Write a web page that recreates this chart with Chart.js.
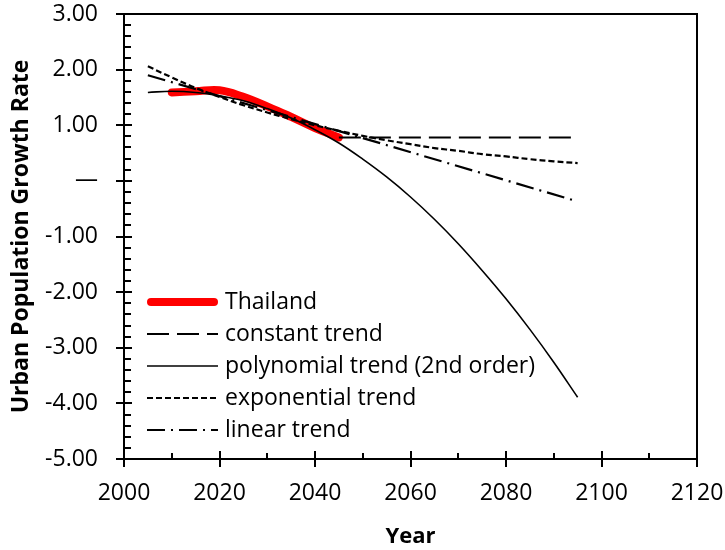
<!DOCTYPE html>
<html>
<head>
<meta charset="utf-8">
<script src="https://cdn.jsdelivr.net/npm/chart.js@4/dist/chart.umd.min.js"></script>
<style>
  html, body { margin: 0; padding: 0; background: #fff; }
  #wrap { width: 725px; height: 550px; }
</style>
</head>
<body>
<div id="wrap"><canvas id="chart" width="725" height="550"></canvas></div>
<script>
// data
const thaiYears = [2010, 2015, 2020, 2025, 2030, 2035, 2040, 2045];
const thaiRate  = [1.59, 1.61, 1.63, 1.51, 1.34, 1.15, 0.95, 0.78];

const constYears = [2045, 2095];
const constRate  = [0.78, 0.78];

const trendYears = [2005, 2010, 2015, 2020, 2025, 2030, 2035, 2040, 2045, 2050,
                    2055, 2060, 2065, 2070, 2075, 2080, 2085, 2090, 2095];
const polyRate = [1.59, 1.61, 1.59, 1.53, 1.44, 1.30, 1.13, 0.92, 0.68, 0.39,
                  0.07, -0.29, -0.69, -1.13, -1.61, -2.12, -2.67, -3.26, -3.89];
const expRate  = [2.06, 1.86, 1.67, 1.51, 1.36, 1.23, 1.11, 1.00, 0.90, 0.81,
                  0.73, 0.66, 0.59, 0.54, 0.48, 0.44, 0.39, 0.35, 0.32];

const linYears = [2005, 2050, 2095];
const linRate  = [1.90, 0.77, -0.37];

const seriesNames = ['Thailand', 'constant trend', 'polynomial trend (2nd order)',
                     'exponential trend', 'linear trend'];

const xMin = 2000, xMax = 2120, xStep = 20, xMinor = 10;
const yMin = -5, yMax = 3, yStep = 1, yMinor = 0.2;

const FONT = "'Open Sans', 'DejaVu Sans', sans-serif";

function pts(xs, ys) {
    return xs.map((x, i) => ({ x: x, y: ys[i] }));
}

// box + tick marks like the excel frame
const frameTicks = {
    id: 'frameTicks',
    afterDraw(chart) {
        const { ctx, chartArea: a, scales: { x, y } } = chart;
        ctx.save();
        ctx.strokeStyle = '#000';
        ctx.lineWidth = 2;
        ctx.strokeRect(a.left, a.top, a.right - a.left, a.bottom - a.top);
        ctx.beginPath();
        const ny = Math.round((yMax - yMin) / yMinor);
        for (let i = 0; i <= ny; i++) {
            const v = yMin + i * yMinor;
            const py = Math.round(y.getPixelForValue(v));
            const major = i % Math.round(yStep / yMinor) === 0;
            ctx.moveTo(a.left - (major ? 8 : 0), py);
            ctx.lineTo(a.left + (major ? 8 : 7), py);
        }
        const nx = Math.round((xMax - xMin) / xMinor);
        for (let i = 0; i <= nx; i++) {
            const v = xMin + i * xMinor;
            const px = Math.round(x.getPixelForValue(v));
            const major = i % Math.round(xStep / xMinor) === 0;
            ctx.moveTo(px, a.bottom + (major ? 8 : 0));
            ctx.lineTo(px, a.bottom - (major ? 8 : 6));
        }
        ctx.stroke();
        ctx.restore();
    }
};

// legend drawn inside the plot, lower left
const insideLegend = {
    id: 'insideLegend',
    afterDraw(chart) {
        const { ctx, chartArea: a } = chart;
        const x0 = a.left + 23, x1 = a.left + 94, tx = a.left + 101;
        let yRow = a.bottom - 157;
        ctx.save();
        ctx.font = "23px " + FONT;
        ctx.fillStyle = '#000';
        ctx.textBaseline = 'middle';
        chart.data.datasets.forEach(ds => {
            ctx.beginPath();
            ctx.strokeStyle = ds.borderColor;
            ctx.lineWidth = ds.borderWidth;
            ctx.lineCap = ds.borderCapStyle || 'butt';
            ctx.setLineDash(ds.borderDash || []);
            const cap = ctx.lineCap === 'round' ? ds.borderWidth / 2 : 0;
            ctx.moveTo(x0 + cap, yRow);
            ctx.lineTo(x1 - cap, yRow);
            ctx.stroke();
            ctx.fillText(ds.label, tx, yRow);
            yRow += 32;
        });
        ctx.restore();
    }
};

function noPad(s) {
    s.paddingTop = 0;
    s.paddingBottom = 0;
    s.paddingLeft = 0;
    s.paddingRight = 0;
}

Chart.defaults.color = '#000';
Chart.defaults.font.family = FONT;

new Chart(document.getElementById('chart'), {
    type: 'line',
    data: {
        datasets: [
            {
                label: seriesNames[0],
                data: pts(thaiYears, thaiRate),
                borderColor: '#ff0000',
                borderWidth: 8,
                borderCapStyle: 'round',
                tension: 0.4,
                order: 1
            },
            {
                label: seriesNames[1],
                data: pts(constYears, constRate),
                borderColor: '#000',
                borderWidth: 2.2,
                borderDash: [22, 8],
                order: 0
            },
            {
                label: seriesNames[2],
                data: pts(trendYears, polyRate),
                borderColor: '#000',
                borderWidth: 1.6,
                tension: 0.4,
                order: 0
            },
            {
                label: seriesNames[3],
                data: pts(trendYears, expRate),
                borderColor: '#000',
                borderWidth: 2.2,
                borderDash: [6, 3],
                tension: 0.4,
                order: 0
            },
            {
                label: seriesNames[4],
                data: pts(linYears, linRate),
                borderColor: '#000',
                borderWidth: 2.2,
                borderDash: [18, 6, 2, 6],
                order: 0
            }
        ]
    },
    options: {
        responsive: false,
        animation: false,
        layout: { padding: { top: 14, right: 28, left: 0, bottom: 0 } },
        elements: { point: { radius: 0 } },
        plugins: {
            legend: { display: false },
            tooltip: { enabled: false }
        },
        scales: {
            x: {
                type: 'linear',
                min: xMin,
                max: xMax,
                afterFit: s => { s.height = 91; noPad(s); },
                grid: { display: false, drawTicks: false },
                border: { display: false },
                ticks: {
                    stepSize: xStep,
                    padding: 21,
                    maxRotation: 0,
                    font: { size: 23 },
                    callback: v => String(v)
                },
                title: {
                    display: true,
                    text: 'Year',
                    font: { size: 22, weight: 'bold' },
                    padding: { top: 0, bottom: 0 }
                }
            },
            y: {
                min: yMin,
                max: yMax,
                afterFit: s => { s.width = 124; noPad(s); },
                grid: { display: false, drawTicks: false },
                border: { display: false },
                ticks: {
                    stepSize: yStep,
                    padding: 26,
                    font: { size: 23 },
                    callback: v => (Math.abs(v) < 1e-9 ? '\u2014' : v.toFixed(2))
                },
                title: {
                    display: true,
                    text: 'Urban Population Growth Rate',
                    font: { size: 23, weight: 'bold' },
                    padding: { top: 8, bottom: 0 }
                }
            }
        }
    },
    plugins: [frameTicks, insideLegend]
});
</script>
</body>
</html>
